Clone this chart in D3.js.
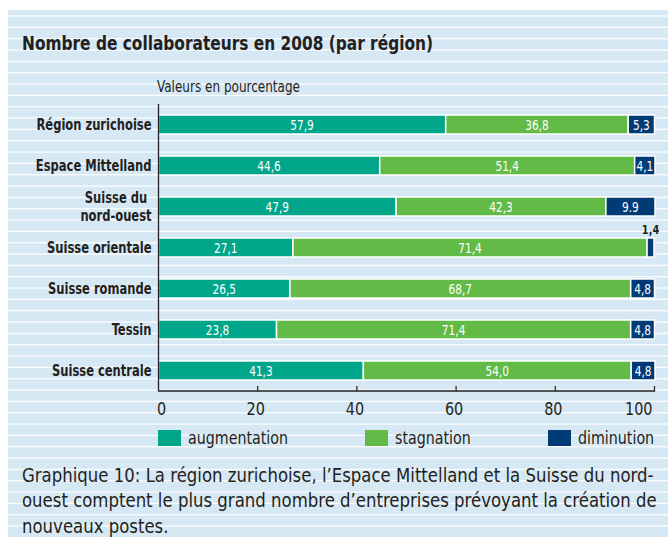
<!DOCTYPE html>
<html>
<head>
<meta charset="utf-8">
<script src="https://cdn.jsdelivr.net/npm/d3@7"></script>
<style>
  html, body { margin: 0; padding: 0; background: #ffffff; }
  svg { display: block; }
  text { font-family: "Liberation Sans Narrow", "DejaVu Sans Condensed", "Liberation Sans", Arial, sans-serif; fill: #231f20; }
</style>
</head>
<body>
<script>
// ---- data ----
const categories = ["Région zurichoise", "Espace Mittelland", "Suisse du nord-ouest", "Suisse orientale", "Suisse romande", "Tessin", "Suisse centrale"];
const categoryLines = [["Région zurichoise"], ["Espace Mittelland"], ["Suisse du", "nord-ouest"], ["Suisse orientale"], ["Suisse romande"], ["Tessin"], ["Suisse centrale"]];
const seriesNames = ["augmentation", "stagnation", "diminution"];
const augmentation = [57.9, 44.6, 47.9, 27.1, 26.5, 23.8, 41.3];
const stagnation = [36.8, 51.4, 42.3, 71.4, 68.7, 71.4, 54.0];
const diminution = [5.3, 4.1, 9.9, 1.4, 4.8, 4.8, 4.8];
const diminutionLabels = ["5,3", "4,1", "9.9", "1,4", "4,8", "4,8", "4,8"];
const xTicks = [0, 20, 40, 60, 80, 100];
const titleText = "Nombre de collaborateurs en 2008 (par région)";
const subtitleText = "Valeurs en pourcentage";
const captionLines = [
  "Graphique 10: La région zurichoise, l’Espace Mittelland et la Suisse du nord-",
  "ouest comptent le plus grand nombre d’entreprises prévoyant la création de",
  "nouveaux postes."
];

// ---- setup ----
const W = 668, H = 537;
const colors = {augmentation: "#00a68a", stagnation: "#63bb47", diminution: "#003b75"};
const svg = d3.select("body").append("svg").attr("width", W).attr("height", H);

function condense(sel, factor) {
  sel.each(function () {
    const w = this.getComputedTextLength();
    d3.select(this).attr("textLength", w * factor).attr("lengthAdjust", "spacingAndGlyphs");
  });
}
function factorFor(node, target) {
  return target / node.getComputedTextLength();
}

// panel background with stripes
svg.append("rect").attr("x", 8).attr("y", 10).attr("width", W - 8).attr("height", H - 10).attr("fill", "#d7e8f5");
const stripeStep = 34 / 3;
const stripes = d3.range(0, 46).map(k => 16 + k * stripeStep);
svg.append("g").selectAll("rect").data(stripes).join("rect")
  .attr("x", 8).attr("y", d => d - 0.6).attr("width", W - 8).attr("height", 1.3)
  .attr("fill", "#ffffff").attr("opacity", 0.9);

// title
const title = svg.append("text").attr("x", 22).attr("y", 49.5)
  .attr("font-size", 20).attr("font-weight", "bold").text(titleText);
condense(title, factorFor(title.node(), 411));

const subtitle = svg.append("text").attr("x", 157).attr("y", 92)
  .attr("font-size", 16).text(subtitleText);
condense(subtitle, factorFor(subtitle.node(), 143));

// scales
const x = d3.scaleLinear().domain([0, 100]).range([158.5, 654.5]);
const y = d3.scaleBand().domain(categories).range([104, 391]).paddingInner(22 / 41).paddingOuter(11 / 41);

const rows = categories.map((c, i) => ({
  cat: c, lines: categoryLines[i],
  augmentation: augmentation[i], stagnation: stagnation[i], diminution: diminution[i],
  labels: {
    augmentation: d3.format(".1f")(augmentation[i]).replace(".", ","),
    stagnation: d3.format(".1f")(stagnation[i]).replace(".", ","),
    diminution: diminutionLabels[i]
  }
}));
const stacked = d3.stack().keys(seriesNames)(rows);

// bars
const gBars = svg.append("g");
stacked.forEach(layer => {
  gBars.append("g").selectAll("rect").data(layer).join("rect")
    .attr("x", d => x(d[0]))
    .attr("y", d => y(d.data.cat))
    .attr("width", d => x(d[1]) - x(d[0]))
    .attr("height", y.bandwidth())
    .attr("fill", colors[layer.key])
    .attr("stroke", "#ffffff").attr("stroke-width", 1.5);
});

// value labels
const valueTexts = [];
stacked.forEach(layer => {
  layer.forEach(d => {
    const w = x(d[1]) - x(d[0]);
    const cx = (x(d[0]) + x(d[1])) / 2;
    const small = w < 12;
    const t = gBars.append("text")
      .attr("x", cx)
      .attr("y", small ? y(d.data.cat) - 4 : y(d.data.cat) + y.bandwidth() / 2 + 5)
      .attr("text-anchor", "middle")
      .attr("font-size", small ? 13 : 14)
      .attr("font-weight", small ? "bold" : "normal")
      .style("fill", small ? "#231f20" : "#ffffff")
      .text(d.data.labels[layer.key]);
    valueTexts.push(t);
  });
});
const vf = factorFor(valueTexts[0].node(), 23.5);
valueTexts.forEach(t => condense(t, vf));

// category labels
const gCat = svg.append("g");
const catTexts = [];
rows.forEach(r => {
  const cy = y(r.cat) + y.bandwidth() / 2;
  const n = r.lines.length;
  const t = gCat.append("text").attr("font-size", 16).attr("font-weight", "bold");
  r.lines.forEach((ln, j) => {
    t.append("tspan").attr("y", cy + 5.5 + (j - (n - 1) / 2) * 17.4).text(ln);
  });
  catTexts.push(t);
});
const refCat = gCat.append("text").attr("font-size", 16).attr("font-weight", "bold").text(categories[0]);
const cf = 115 / refCat.node().getComputedTextLength();
refCat.remove();
catTexts.forEach(t => {
  const spans = t.selectAll("tspan").nodes();
  const widths = spans.map(s => s.getComputedTextLength() * cf);
  const maxW = d3.max(widths);
  spans.forEach((s, j) => {
    d3.select(s).attr("textLength", widths[j]).attr("lengthAdjust", "spacingAndGlyphs")
      .attr("x", spans.length > 1 ? 151.5 - maxW / 2 : 151.5)
      .attr("text-anchor", spans.length > 1 ? "middle" : "end");
  });
});

// axes
const gAxis = svg.append("g");
gAxis.append("line").attr("x1", x(0)).attr("x2", x(0)).attr("y1", 104).attr("y2", 391.5)
  .attr("stroke", "#231f20").attr("stroke-width", 1.3);
gAxis.append("line").attr("x1", x(0)).attr("x2", x(100) + 0.6).attr("y1", 391).attr("y2", 391)
  .attr("stroke", "#231f20").attr("stroke-width", 1.3);
gAxis.selectAll("line.tick").data(xTicks.filter(d => d > 0)).join("line").attr("class", "tick")
  .attr("x1", d => x(d)).attr("x2", d => x(d)).attr("y1", 386).attr("y2", 391)
  .attr("stroke", "#231f20").attr("stroke-width", 1.2);
const tickTexts = gAxis.selectAll("text.tl").data(xTicks).join("text").attr("class", "tl")
  .attr("x", d => x(d) + (d === 0 ? -1.5 : -2))
  .attr("y", 415)
  .attr("text-anchor", d => d === 0 ? "start" : d === 100 ? "end" : "middle")
  .attr("font-size", 17)
  .text(d => d);
const tf = factorFor(tickTexts.filter(d => d === 100).node(), 27.5);
condense(tickTexts, tf);

// legend
const legendX = [158, 365, 548];
const gLeg = svg.append("g");
const legTexts = [];
seriesNames.forEach((s, i) => {
  gLeg.append("rect").attr("x", legendX[i]).attr("y", 430).attr("width", 23).attr("height", 16).attr("fill", colors[s]);
  legTexts.push(gLeg.append("text").attr("x", legendX[i] + 30).attr("y", 444).attr("font-size", 17).text(s));
});
const lf = factorFor(legTexts[0].node(), 100);
legTexts.forEach(t => condense(t, lf));

// caption (horizontally condensed via transform so its box matches what is drawn)
const capTexts = captionLines.map((ln, i) =>
  svg.append("text").attr("x", 0).attr("y", 0).attr("font-size", 20).text(ln));
const capf = factorFor(capTexts[0].node(), 632);
capTexts.forEach((t, i) => t.attr("transform", `translate(22,${481.5 + i * 25.5}) scale(${capf},1)`));
</script>
</body>
</html>
